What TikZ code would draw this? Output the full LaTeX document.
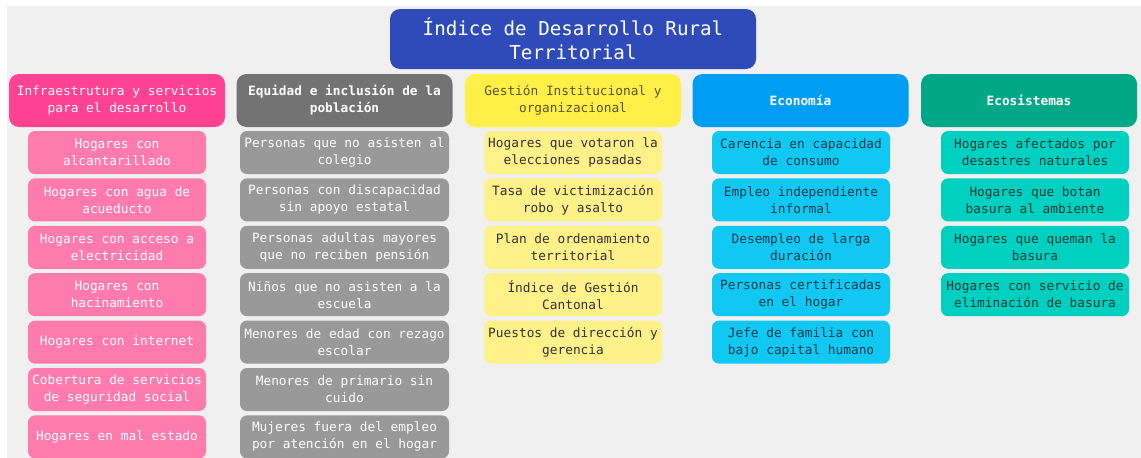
\documentclass[tikz,border=0pt]{standalone}
\usepackage{fontspec}
\setmonofont{DejaVu Sans Mono}
\usetikzlibrary{positioning}

\definecolor{titleblue}{HTML}{2F4BBA}
\definecolor{bggray}{HTML}{F0F0F0}
\definecolor{pinkhead}{HTML}{FF4291}
\definecolor{pinkitem}{HTML}{FF7BAC}
\definecolor{grayhead}{HTML}{737373}
\definecolor{grayitem}{HTML}{999999}
\definecolor{yellowhead}{HTML}{FFEF47}
\definecolor{yellowitem}{HTML}{FFF18A}
\definecolor{bluehead}{HTML}{009DF5}
\definecolor{blueitem}{HTML}{10C8F2}
\definecolor{greenhead}{HTML}{00A887}
\definecolor{greenitem}{HTML}{00D0BF}
\definecolor{olivetext}{HTML}{5A5530}
\definecolor{darktext}{HTML}{333333}
\definecolor{bluetext}{HTML}{0E3A4C}
\definecolor{greentext}{HTML}{0B3B36}

\begin{document}
\begin{tikzpicture}[
  x=1pt, y=-1pt,
  title/.style={rectangle, rounded corners=10pt, fill=titleblue, text=white, minimum width=366pt, minimum height=60pt, inner sep=0pt, align=center, font=\ttfamily\fontsize{19.2}{24}\selectfont},
  header/.style={rectangle, rounded corners=10pt, minimum width=216pt, minimum height=53pt, inner sep=0pt, align=center, font=\ttfamily\fontsize{12.8}{17}\selectfont},
  item/.style={rectangle, rounded corners=7pt, minimum width=178pt, minimum height=43pt, inner sep=0pt, align=center, font=\ttfamily\fontsize{12.8}{17}\selectfont},
  pinkbox/.style={item, fill=pinkitem, text=white},
  graybox/.style={item, fill=grayitem, text=white, minimum width=209pt},
  yellowbox/.style={item, fill=yellowitem, text=darktext},
  bluebox/.style={item, fill=blueitem, text=bluetext},
  greenbox/.style={item, fill=greenitem, text=greentext, minimum width=188pt}
]

% Background
\useasboundingbox (0,0) rectangle (1141,458);
\fill[white] (0,0) rectangle (1141,458);
\fill[bggray] (7,6) rectangle (1141,458);

% Title
\node[title] (title) at (573,39) {Índice de Desarrollo Rural\\Territorial};

% Headers
\node[header, fill=pinkhead, text=white] (infra) at (117,100.5) {Infraestrutura y servicios\\para el desarrollo};
\node[header, fill=grayhead, text=white, font=\ttfamily\bfseries\fontsize{12.8}{17}\selectfont] (equidad) at (344.5,100.5) {Equidad e inclusión de la\\población};
\node[header, fill=yellowhead, text=olivetext] (gestion) at (573,100.5) {Gestión Institucional y\\organizacional};
\node[header, fill=bluehead, text=white, font=\ttfamily\bfseries\fontsize{12.8}{17}\selectfont] (economia) at (800.5,100.5) {Economía};
\node[header, fill=greenhead, text=white, font=\ttfamily\bfseries\fontsize{12.8}{17}\selectfont] (ecosis) at (1029,100.5) {Ecosistemas};

% Infraestructura
\node[pinkbox] (infra1) at (117,152.5) {Hogares con\\alcantarillado};
\node[pinkbox] (infra2) at (117,199.9) {Hogares con agua de\\acueducto};
\node[pinkbox] (infra3) at (117,247.3) {Hogares con acceso a\\electricidad};
\node[pinkbox] (infra4) at (117,294.7) {Hogares con\\hacinamiento};
\node[pinkbox] (infra5) at (117,342.1) {Hogares con internet};
\node[pinkbox] (infra6) at (117,389.5) {Cobertura de servicios\\de seguridad social};
\node[pinkbox] (infra7) at (117,436.9) {Hogares en mal estado};

% Equidad
\node[graybox] (equidad1) at (344.5,152.5) {Personas que no asisten al\\colegio};
\node[graybox] (equidad2) at (344.5,199.9) {Personas con discapacidad\\sin apoyo estatal};
\node[graybox] (equidad3) at (344.5,247.3) {Personas adultas mayores\\que no reciben pensión};
\node[graybox] (equidad4) at (344.5,294.7) {Niños que no asisten a la\\escuela};
\node[graybox] (equidad5) at (344.5,342.1) {Menores de edad con rezago\\escolar};
\node[graybox] (equidad6) at (344.5,389.5) {Menores de primario sin\\cuido};
\node[graybox] (equidad7) at (344.5,436.9) {Mujeres fuera del empleo\\por atención en el hogar};

% Gestion
\node[yellowbox] (gestion1) at (573,152.5) {Hogares que votaron la\\elecciones pasadas};
\node[yellowbox] (gestion2) at (573,199.9) {Tasa de victimización\\robo y asalto};
\node[yellowbox] (gestion3) at (573,247.3) {Plan de ordenamiento\\territorial};
\node[yellowbox] (gestion4) at (573,294.7) {Índice de Gestión\\Cantonal};
\node[yellowbox] (gestion5) at (573,342.1) {Puestos de dirección y\\gerencia};

% Economia
\node[bluebox] (economia1) at (801,152.5) {Carencia en capacidad\\de consumo};
\node[bluebox] (economia2) at (801,199.9) {Empleo independiente\\informal};
\node[bluebox] (economia3) at (801,247.3) {Desempleo de larga\\duración};
\node[bluebox] (economia4) at (801,294.7) {Personas certificadas\\en el hogar};
\node[bluebox] (economia5) at (801,342.1) {Jefe de familia con\\bajo capital humano};

% Ecosistemas
\node[greenbox] (ecosis1) at (1035,152.5) {Hogares afectados por\\desastres naturales};
\node[greenbox] (ecosis2) at (1035,199.9) {Hogares que botan\\basura al ambiente};
\node[greenbox] (ecosis3) at (1035,247.3) {Hogares que queman la\\basura};
\node[greenbox] (ecosis4) at (1035,294.7) {Hogares con servicio de\\eliminación de basura};

\end{tikzpicture}
\end{document}
